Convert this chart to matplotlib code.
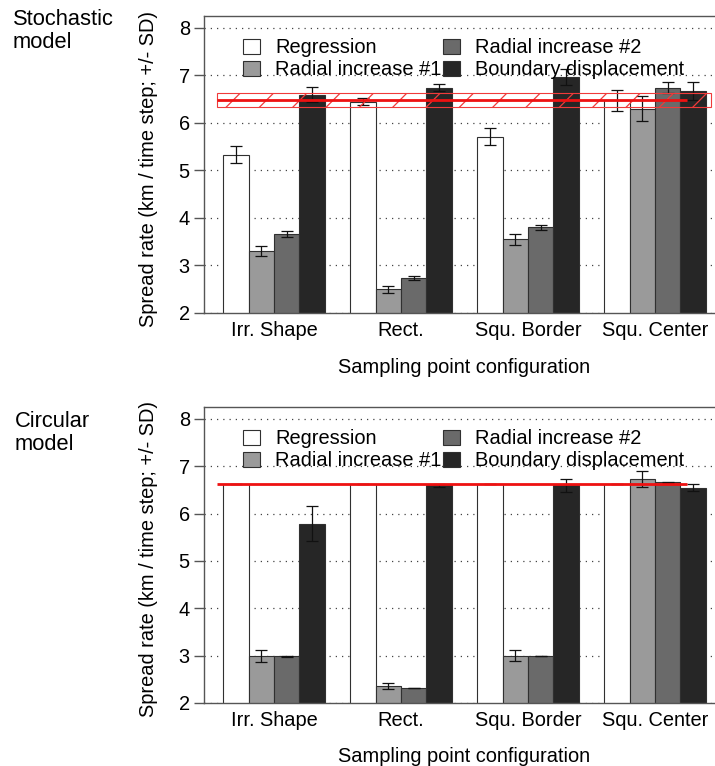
import numpy as np
import matplotlib.pyplot as plt
from matplotlib.patches import Rectangle, Patch

plt.rcParams["font.family"] = ["Liberation Sans", "DejaVu Sans"]
plt.rcParams["hatch.linewidth"] = 0.45

# --- data ---
configs = ["Irr. Shape", "Rect.", "Squ. Border", "Squ. Center"]
methods = ["Regression", "Radial increase #1", "Radial increase #2", "Boundary displacement"]
colors = ["#ffffff", "#9a9a9a", "#6a6a6a", "#262626"]

# stochastic model: mean and SD per method (rows) x configuration (cols)
stoch_mean = [
    [5.33, 6.45, 5.71, 6.48],
    [3.31, 2.50, 3.55, 6.30],
    [3.66, 2.73, 3.80, 6.74],
    [6.59, 6.74, 6.96, 6.67],
]
stoch_sd = [
    [0.18, 0.08, 0.18, 0.22],
    [0.11, 0.07, 0.11, 0.26],
    [0.06, 0.04, 0.06, 0.12],
    [0.16, 0.07, 0.17, 0.19],
]
stoch_true = 6.48
stoch_true_sd = 0.15

# circular model
circ_mean = [
    [6.63, 6.63, 6.63, 6.63],
    [2.99, 2.36, 3.00, 6.73],
    [2.99, 2.32, 3.00, 6.66],
    [5.79, 6.60, 6.60, 6.55],
]
circ_sd = [
    [0.00, 0.00, 0.00, 0.00],
    [0.13, 0.07, 0.11, 0.17],
    [0.01, 0.00, 0.00, 0.01],
    [0.37, 0.03, 0.14, 0.08],
]
circ_true = 6.63

FS = 7.2
W, H = 715, 766
fig = plt.figure(figsize=(W / 200, H / 200), dpi=200)


def panel(ax, means, sds, true_val, true_sd=None):
    n_groups = len(configs)
    starts = 1 + 5 * np.arange(n_groups)
    for i in range(len(methods)):
        x = starts + i
        ax.bar(x, means[i], width=1, align="edge", bottom=0, color=colors[i],
               edgecolor="#303030", linewidth=0.4, zorder=2)
        ax.errorbar(x + 0.5, means[i], yerr=sds[i], fmt="none", ecolor="#111111",
                    elinewidth=0.45, capsize=2.2, capthick=0.45, zorder=3)
    # reference rate (band = +/- SD)
    if true_sd is not None:
        ax.add_patch(Rectangle((0.76, true_val - true_sd), 20.2 - 0.76, 2 * true_sd,
                               fill=False, edgecolor="#f03a3a", hatch="//",
                               linewidth=0.4, zorder=4))
    ax.plot([0.76, 19.25], [true_val, true_val], color="#ee1111", lw=1.0, zorder=5,
            solid_capstyle="butt")

    ax.set_xlim(0.24, 20.76)
    ax.set_ylim(2, 8.25)
    ax.set_yticks(range(2, 9))
    ax.set_xticks(starts + 2)
    ax.set_xticklabels(configs, fontsize=FS)
    ax.tick_params(axis="x", length=0, pad=3.0)
    ax.tick_params(axis="y", labelsize=FS, length=3.6, width=0.5, color="#555555", pad=1.5)
    for s in ax.spines.values():
        s.set_color("#555555")
        s.set_linewidth(0.5)
    ax.set_axisbelow(True)
    ax.yaxis.grid(True, linestyle=(0, (1, 4)), linewidth=0.45, color="#444444")
    ax.set_ylabel("Spread rate (km / time step; +/- SD)", fontsize=FS)
    ax.yaxis.set_label_coords(-0.088, 0.485)
    ax.set_xlabel("Sampling point configuration", fontsize=FS)
    ax.xaxis.set_label_coords(0.5, -0.15)

    handles = [Patch(facecolor=c, edgecolor="#303030", linewidth=0.4) for c in colors]
    ax.legend(handles, methods, ncol=2, frameon=False, fontsize=FS,
              loc="upper left", bbox_to_anchor=(0.056, 0.958), borderpad=0,
              handlelength=0.85, handleheight=0.8, handletextpad=0.75,
              columnspacing=0.05, labelspacing=0.15)


ax1 = fig.add_axes([204 / W, 1 - 313 / H, 521 / W, 297 / H])
panel(ax1, stoch_mean, stoch_sd, stoch_true, stoch_true_sd)

ax2 = fig.add_axes([204 / W, 1 - 703 / H, 521 / W, 296 / H])
panel(ax2, circ_mean, circ_sd, circ_true)

fig.text(13 / W, 1 - 9 / H, "Stochastic\nmodel", fontsize=7.9, va="top", ha="left",
         linespacing=1.1)
fig.text(15 / W, 1 - 411 / H, "Circular\nmodel", fontsize=7.9, va="top", ha="left",
         linespacing=1.1)

fig.savefig("out.png", dpi=200)
